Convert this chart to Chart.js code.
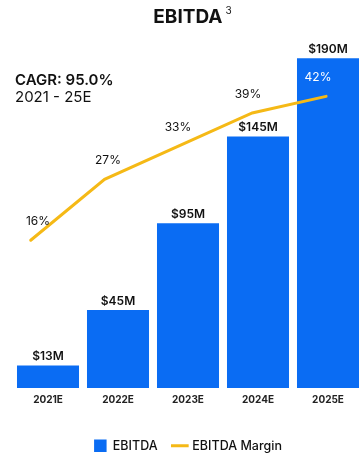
<!DOCTYPE html>
<html>
<head>
<meta charset="utf-8">
<script src="https://cdn.jsdelivr.net/npm/chart.js@4.4.0/dist/chart.umd.min.js"></script>
<style>
  body { margin: 0; background: #fff; font-family: Inter, sans-serif; color: #111; }
  #wrap { position: relative; width: 363px; height: 462px; }
  #title { position: absolute; top: 4px; left: 11px; width: 363px; text-align: center; font-size: 19px; font-weight: 700; }
  #title sup { font-size: 10px; font-weight: 400; vertical-align: 9px; margin-left: 3px; }
  #cagr { position: absolute; left: 15px; top: 71px; font-size: 15px; line-height: 17px; }
  #cagr b { font-weight: 600; }
</style>
</head>
<body>
<div id="wrap">
  <canvas id="chart" width="363" height="462"></canvas>
  <div id="title">EBITDA<sup>3</sup></div>
  <div id="cagr"></div>
</div>
<script>
/* EBITDA chart */

const years = ['2021E', '2022E', '2023E', '2024E', '2025E'];
const ebitda = [13, 45, 95, 145, 190];   // $M
const margins = [16, 27, 33, 39, 42];   // %
const cagrLabel = 'CAGR: 95.0%';
const cagrPeriod = '2021 - 25E';

document.getElementById('cagr').innerHTML = `<b>${cagrLabel}</b><br>${cagrPeriod}`;

const BLUE = '#0A6CF3';
const YELLOW = '#F5B916';

Chart.defaults.font.family = 'Inter';
Chart.defaults.color = '#111';

// draws the $ labels on the bars and the % labels on the line
const valueLabels = {
  id: 'valueLabels',
  afterDatasetsDraw(chart) {
    const ctx = chart.ctx;
    const bars = chart.getDatasetMeta(0).data;
    const points = chart.getDatasetMeta(1).data;
    ctx.save();
    ctx.textAlign = 'center';

    ctx.font = '600 12px Inter';
    ctx.textBaseline = 'bottom';
    ctx.fillStyle = '#111';
    bars.forEach((bar, i) => {
      ctx.fillText(`$${ebitda[i]}M`, bar.x, bar.y - 3);
    });

    ctx.font = '400 12px Inter';
    ctx.textBaseline = 'middle';
    points.forEach((pt, i) => {
      const x = bars[i].x - 10;
      const y = pt.y - 19;
      const inside = y > bars[i].y && Math.abs(x - bars[i].x) < bars[i].width / 2;
      ctx.fillStyle = inside ? '#fff' : '#111';
      ctx.fillText(`${margins[i]}%`, x, y);
    });
    ctx.restore();
  }
};

new Chart(document.getElementById('chart'), {
  type: 'bar',
  data: {
    labels: years,
    datasets: [{
      label: 'EBITDA',
      data: ebitda,
      backgroundColor: BLUE,
      borderWidth: 0,
      barPercentage: 0.886,
      categoryPercentage: 1,
      grouped: false,
      pointStyle: 'rect',
      order: 0
    }, {
      type: 'line',
      label: 'EBITDA Margin',
      data: margins.map((m, i) => ({ x: i, y: m })),
      xAxisID: 'x2',
      yAxisID: 'y1',
      borderColor: YELLOW,
      backgroundColor: YELLOW,
      borderWidth: 3,
      borderCapStyle: 'round',
      pointRadius: 0,
      tension: 0,
      fill: false,
      pointStyle: 'line',
      order: -1
    }]
  },
  options: {
    responsive: false,
    animation: false,
    layout: { padding: { top: 41, left: 13, right: 0, bottom: 0 } },
    plugins: {
      tooltip: { enabled: false },
      legend: {
        position: 'bottom',
        labels: {
          usePointStyle: true,
          boxHeight: 12.5,
          padding: 16,
          color: '#111',
          font: { size: 12.5, weight: 500 },
          sort: (a, b) => a.datasetIndex - b.datasetIndex
        }
      }
    },
    scales: {
      x: {
        grid: { display: false, drawTicks: false },
        border: { display: false },
        ticks: { padding: 6, color: '#222', font: { size: 10, weight: 700 } },
        afterFit: (scale) => { scale.height = 35.5; }
      },
      x2: { type: 'linear', display: false, offset: false, min: -0.24, max: 4.5 },
      y: { display: false, min: 0, max: 200 },
      y1: { display: false, min: -10.7, max: 52 }
    }
  },
  plugins: [valueLabels]
});
</script>
</body>
</html>
